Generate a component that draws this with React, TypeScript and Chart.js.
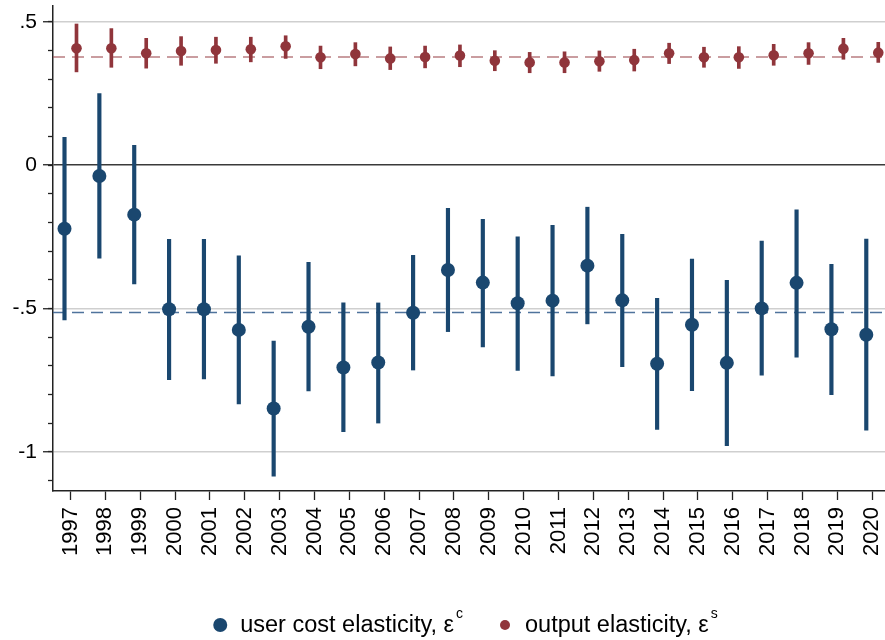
import React, { useEffect, useRef } from 'react';
import { Chart, registerables } from 'chart.js';

Chart.register(...registerables);

const years = [1997, 1998, 1999, 2000, 2001, 2002, 2003, 2004, 2005, 2006, 2007, 2008, 2009, 2010, 2011, 2012, 2013, 2014, 2015, 2016, 2017, 2018, 2019, 2020];

const userCost = [-0.222, -0.038, -0.173, -0.503, -0.503, -0.575, -0.849, -0.564, -0.706, -0.689, -0.515, -0.366, -0.410, -0.482, -0.473, -0.351, -0.472, -0.693, -0.557, -0.690, -0.500, -0.411, -0.573, -0.592];
const userCostLo = [-0.540, -0.325, -0.415, -0.749, -0.746, -0.833, -1.085, -0.788, -0.930, -0.900, -0.715, -0.581, -0.634, -0.716, -0.736, -0.554, -0.703, -0.922, -0.787, -0.979, -0.733, -0.670, -0.801, -0.925];
const userCostHi = [0.097, 0.249, 0.069, -0.259, -0.259, -0.317, -0.614, -0.339, -0.481, -0.481, -0.315, -0.151, -0.189, -0.250, -0.210, -0.147, -0.242, -0.465, -0.328, -0.402, -0.265, -0.156, -0.346, -0.258];

const output = [0.407, 0.407, 0.390, 0.398, 0.401, 0.404, 0.414, 0.376, 0.387, 0.372, 0.377, 0.382, 0.364, 0.358, 0.358, 0.362, 0.366, 0.390, 0.376, 0.376, 0.383, 0.390, 0.406, 0.392];
const outputLo = [0.325, 0.341, 0.338, 0.348, 0.355, 0.360, 0.372, 0.336, 0.346, 0.333, 0.339, 0.343, 0.329, 0.322, 0.322, 0.327, 0.328, 0.354, 0.341, 0.337, 0.348, 0.351, 0.369, 0.358];
const outputHi = [0.492, 0.476, 0.442, 0.448, 0.446, 0.446, 0.451, 0.415, 0.427, 0.412, 0.415, 0.419, 0.399, 0.393, 0.395, 0.398, 0.404, 0.425, 0.411, 0.413, 0.421, 0.427, 0.442, 0.428];

const userCostMean = -0.514;
const outputMean = 0.377;

const yTickValues = [0.5, 0, -0.5, -1];
const yTickLabels = ['.5', '0', '-.5', '-1'];
const yMinorTicks = [0.5, 0.4, 0.3, 0.2, 0.1, 0, -0.1, -0.2, -0.3, -0.4, -0.5, -0.6, -0.7, -0.8, -0.9, -1, -1.1];

const legendLabels = ['user cost elasticity, ε', 'output elasticity, ε'];
const legendSups = ['c', 's'];

const X_MIN = 1996.498;
const X_MAX = 2020.365;
const Y_MIN = -1.137;
const Y_MAX = 0.5548;
const SHIFT = 0.172;

const BLUE = '#1a476f';
const RED = '#90353b';
const FONT = '"Liberation Sans", Arial, sans-serif';

const zeroPad = (scale: any) => {
  scale.paddingTop = 0;
  scale.paddingBottom = 0;
  scale.paddingLeft = 0;
  scale.paddingRight = 0;
};

const legendPlugin = {
  id: 'stataLegend',
  afterDraw(chart: any) {
    const ctx = chart.ctx;
    const area = chart.chartArea;
    const cy = 625;
    const colors = [BLUE, RED];
    const radii = [7, 5];
    ctx.save();
    const mainFont = `23.5px ${FONT}`;
    const supFont = `14px ${FONT}`;
    const items = legendLabels.map((lab, i) => {
      ctx.font = mainFont;
      const w = ctx.measureText(lab).width;
      ctx.font = supFont;
      const sw = ctx.measureText(legendSups[i]).width;
      return { w, sw };
    });
    const circleGap = 20;
    const itemGap = 42;
    let total = 0;
    items.forEach((it, i) => {
      total += circleGap + it.w + 2 + it.sw;
      if (i < items.length - 1) total += itemGap;
    });
    let x = (area.left + area.right) / 2 - total / 2;
    items.forEach((it, i) => {
      ctx.fillStyle = colors[i];
      ctx.beginPath();
      ctx.arc(x, cy, radii[i], 0, Math.PI * 2);
      ctx.fill();
      ctx.fillStyle = '#000';
      ctx.font = mainFont;
      ctx.textBaseline = 'middle';
      ctx.textAlign = 'left';
      ctx.fillText(legendLabels[i], x + circleGap, cy + 1);
      ctx.font = supFont;
      ctx.fillText(legendSups[i], x + circleGap + it.w + 2, cy - 11);
      x += circleGap + it.w + 2 + it.sw + itemGap;
    });
    ctx.restore();
  },
};

export default function App() {
  const ref = useRef<HTMLCanvasElement | null>(null);

  useEffect(() => {
    if (!ref.current) return;
    const chart = new Chart(ref.current, {
      type: 'bar',
      data: {
        datasets: [
          {
            type: 'line',
            data: [{ x: X_MIN, y: outputMean }, { x: X_MAX, y: outputMean }],
            borderColor: 'rgba(160, 80, 86, 0.75)',
            borderWidth: 1.5,
            borderDash: [12, 7],
            pointRadius: 0,
            order: 20,
          } as any,
          {
            type: 'line',
            data: [{ x: X_MIN, y: userCostMean }, { x: X_MAX, y: userCostMean }],
            borderColor: 'rgba(60, 100, 145, 0.9)',
            borderWidth: 1.5,
            borderDash: [12, 7],
            pointRadius: 0,
            order: 19,
          } as any,
          {
            type: 'bar',
            data: years.map((yr, i) => ({ x: yr - SHIFT, y: [userCostLo[i], userCostHi[i]] })),
            backgroundColor: BLUE,
            borderWidth: 0,
            barThickness: 3.5,
            grouped: false,
            order: 10,
          } as any,
          {
            type: 'bar',
            data: years.map((yr, i) => ({ x: yr + SHIFT, y: [outputLo[i], outputHi[i]] })),
            backgroundColor: RED,
            borderWidth: 0,
            barThickness: 3,
            grouped: false,
            order: 9,
          } as any,
          {
            type: 'scatter',
            data: years.map((yr, i) => ({ x: yr - SHIFT, y: userCost[i] })),
            backgroundColor: BLUE,
            borderWidth: 0,
            pointRadius: 7,
            pointHoverRadius: 7,
            order: 2,
          } as any,
          {
            type: 'scatter',
            data: years.map((yr, i) => ({ x: yr + SHIFT, y: output[i] })),
            backgroundColor: RED,
            borderWidth: 0,
            pointRadius: 5.3,
            pointHoverRadius: 5.3,
            order: 1,
          } as any,
        ],
      },
      options: {
        animation: false,
        responsive: false,
        events: [],
        layout: { autoPadding: false, padding: { top: 6, left: 0, right: 0, bottom: 0 } },
        plugins: {
          legend: { display: false },
          tooltip: { enabled: false },
        },
        scales: {
          x: {
            type: 'linear',
            min: X_MIN,
            max: X_MAX,
            offset: false,
            afterBuildTicks: (scale: any) => {
              scale.ticks = years.map((v) => ({ value: v }));
            },
            afterFit: (scale: any) => {
              scale.height = 149;
              zeroPad(scale);
            },
            ticks: {
              autoSkip: false,
              maxRotation: 90,
              minRotation: 90,
              padding: 7,
              color: '#000',
              font: { family: FONT, size: 22 },
              callback: (_v: any, i: number) => String(years[i]),
            },
            grid: {
              drawOnChartArea: false,
              drawTicks: true,
              tickLength: 9,
              tickColor: '#222',
              tickWidth: 1.3,
              offset: false,
            },
            border: { display: true, color: '#222', width: 1.5 },
          },
          y: {
            type: 'linear',
            position: 'left',
            weight: 1,
            min: Y_MIN,
            max: Y_MAX,
            afterBuildTicks: (scale: any) => {
              scale.ticks = yTickValues.map((v) => ({ value: v }));
            },
            afterFit: (scale: any) => {
              scale.width = 53;
              zeroPad(scale);
            },
            ticks: {
              padding: 6,
              color: '#000',
              font: { family: FONT, size: 21 },
              callback: (_v: any, i: number) => yTickLabels[i],
            },
            grid: {
              drawOnChartArea: true,
              drawTicks: true,
              tickLength: 10,
              tickColor: '#222',
              tickWidth: 1.3,
              color: (c: any) => (c.tick && c.tick.value === 0 ? '#3a3a3a' : '#cfcfcf'),
              lineWidth: 1.5,
            },
            border: { display: true, color: '#222', width: 1.5 },
          },
          y2: {
            type: 'linear',
            position: 'left',
            weight: 0,
            min: Y_MIN,
            max: Y_MAX,
            afterBuildTicks: (scale: any) => {
              scale.ticks = yMinorTicks.map((v) => ({ value: v }));
            },
            afterFit: (scale: any) => {
              scale.width = 0;
              zeroPad(scale);
            },
            ticks: { display: false },
            grid: {
              drawOnChartArea: false,
              drawTicks: true,
              tickLength: 5,
              tickColor: '#222',
              tickWidth: 1.3,
            },
            border: { display: false },
          },
        },
      } as any,
      plugins: [legendPlugin],
    });
    return () => chart.destroy();
  }, []);

  return (
    <div style={{ position: 'fixed', left: 0, top: 0, width: 885, height: 640, background: '#fff' }}>
      <canvas ref={ref} width={885} height={640} style={{ width: 885, height: 640, display: 'block' }} />
    </div>
  );
}
